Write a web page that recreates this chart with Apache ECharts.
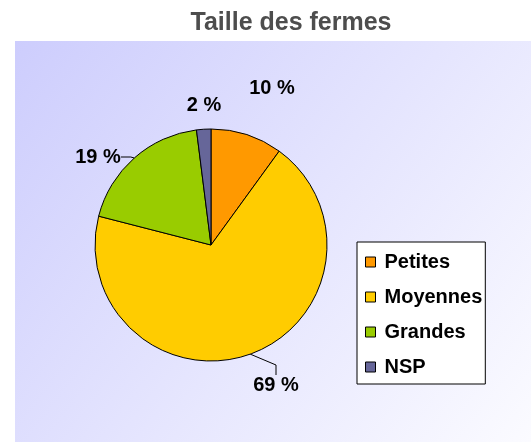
<!DOCTYPE html>
<html>
<head>
<meta charset="utf-8">
<script src="https://cdn.jsdelivr.net/npm/echarts@6/dist/echarts.min.js"></script>
<style>
  html, body { margin: 0; padding: 0; background: #fff; }
  #chart { width: 531px; height: 442px; }
</style>
</head>
<body>
<div id="chart"></div>
<script>
// data
const categories = ['Petites', 'Moyennes', 'Grandes', 'NSP'];
const shares = [10, 69, 19, 2];
const sliceColors = ['#FF9900', '#FFCC00', '#99CC00', '#666699'];

// where excel put the percent labels (label centres, px), same order as categories
const labelSpots = [[272, 88], [276, 385], [98, 157], [204, 105]];
const showLeader = [false, true, true, false];

const font = '"Liberation Sans", Arial, sans-serif';

var myChart = echarts.init(document.getElementById('chart'), null, { renderer: 'canvas' });

const pieData = categories.map(function (name, i) {
  return {
    name: name,
    value: shares[i],
    itemStyle: { color: sliceColors[i] },
    labelLine: { show: showLeader[i] }
  };
});

myChart.setOption({
  animation: false,
  backgroundColor: '#ffffff',
  title: {
    text: 'Taille des fermes',
    left: 286,
    top: 6,
    textAlign: 'center',
    textStyle: { fontFamily: font, fontSize: 25, fontWeight: 'bold', color: '#4d4d4d' }
  },
  graphic: [{
    type: 'rect',
    z: -10,
    silent: true,
    shape: { x: 15, y: 41, width: 516, height: 401 },
    style: {
      fill: new echarts.graphic.LinearGradient(0, 0, 1, 1, [
        { offset: 0, color: '#cdcdfd' },
        { offset: 1, color: '#fbfbff' }
      ])
    }
  }],
  legend: {
    orient: 'vertical',
    left: 357,
    top: 242,
    padding: [10, 3, 7, 8],
    backgroundColor: '#ffffff',
    borderColor: '#000000',
    borderWidth: 1,
    itemWidth: 10,
    itemHeight: 10,
    itemGap: 15,
    icon: 'rect',
    itemStyle: { borderColor: '#000', borderWidth: 1 },
    textStyle: { fontFamily: font, fontSize: 20, fontWeight: 'bold', color: '#000', lineHeight: 20, padding: [0, 0, 0, 4] },
    data: categories
  },
  series: [{
    type: 'pie',
    center: [211, 245],
    radius: 116,
    startAngle: 90,
    clockwise: true,
    data: pieData,
    itemStyle: { borderColor: '#000', borderWidth: 1 },
    label: {
      show: true,
      position: 'outside',
      formatter: '{c} %',
      fontFamily: font,
      fontSize: 20,
      fontWeight: 'bold',
      color: '#000'
    },
    labelLine: {
      length: 10,
      length2: 10,
      lineStyle: { color: '#000', width: 1 }
    },
    labelLayout: function (params) {
      const p = labelSpots[params.dataIndex];
      return { x: p[0], y: p[1], align: 'center', verticalAlign: 'middle' };
    },
    emphasis: { disabled: true }
  }]
});
</script>
</body>
</html>
